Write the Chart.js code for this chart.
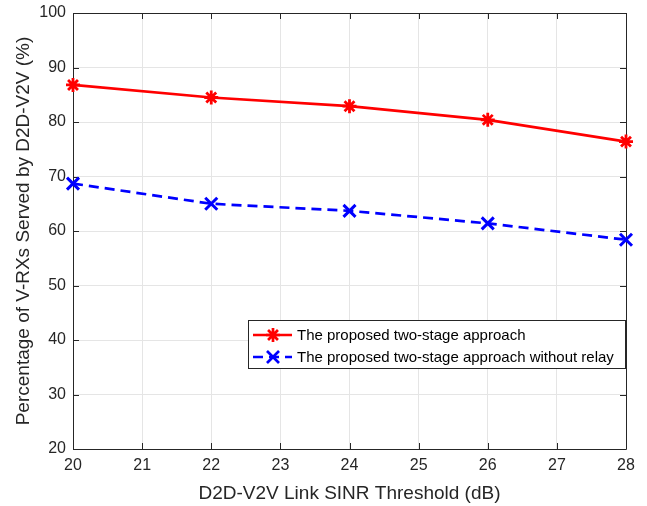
<!DOCTYPE html>
<html><head><meta charset="utf-8">
<script src="https://cdn.jsdelivr.net/npm/chart.js@4/dist/chart.umd.min.js"></script>
<style>html,body{margin:0;padding:0;background:#fff}#wrap{width:647px;height:506px}</style>
</head><body><div id="wrap"><canvas id="c" width="647" height="506"></canvas></div>
<script>
const xValues = [20, 22, 24, 26, 28];
const proposed = [86.8, 84.5, 82.9, 80.4, 76.4];
const noRelay = [68.7, 65.0, 63.7, 61.4, 58.4];
const seriesNames = ["The proposed two-stage approach", "The proposed two-stage approach without relay"];
const xTitle = "D2D-V2V Link SINR Threshold (dB)";
const yTitle = "Percentage of V-RXs Served by D2D-V2V (%)";

const FONT = "'Liberation Sans', Arial, sans-serif";
const TXT = '#262626';

const boxPlugin = {
  id: 'box',
  beforeDatasetsDraw(chart) {
    const {ctx, chartArea: a, scales: {x, y}} = chart;
    ctx.save();
    ctx.strokeStyle = '#262626';
    ctx.lineWidth = 1;
    ctx.beginPath();
    ctx.rect(Math.round(a.left) + 0.5, Math.round(a.top) + 0.5, Math.round(a.right - a.left), Math.round(a.bottom - a.top));
    ctx.stroke();
    const tl = 6;
    ctx.beginPath();
    for (let v = 20; v <= 28; v++) {
      const px = Math.round(x.getPixelForValue(v)) + 0.5;
      ctx.moveTo(px, a.bottom); ctx.lineTo(px, a.bottom - tl);
      ctx.moveTo(px, a.top); ctx.lineTo(px, a.top + tl);
    }
    for (let v = 20; v <= 100; v += 10) {
      const py = Math.round(y.getPixelForValue(v)) + 0.5;
      ctx.moveTo(a.left, py); ctx.lineTo(a.left + tl, py);
      ctx.moveTo(a.right, py); ctx.lineTo(a.right - tl, py);
    }
    ctx.stroke();
    ctx.restore();
  },
  afterDraw(chart) {
    const {ctx} = chart;
    const L = 248, T = 320, R = 625, B = 368;
    ctx.save();
    ctx.fillStyle = '#fff';
    ctx.fillRect(L, T, R - L, B - T);
    ctx.strokeStyle = '#262626';
    ctx.lineWidth = 1;
    ctx.strokeRect(L + 0.5, T + 0.5, R - L, B - T);
    ctx.font = '15px ' + FONT;
    ctx.textBaseline = 'middle';
    chart.data.datasets.forEach((ds, i) => {
      const cy = T + 15 + i * 22;
      ctx.strokeStyle = ds.borderColor;
      ctx.lineWidth = ds.borderWidth;
      ctx.setLineDash(ds.borderDash || []);
      ctx.beginPath(); ctx.moveTo(L + 5, cy); ctx.lineTo(L + 44, cy); ctx.stroke();
      ctx.setLineDash([]);
      ctx.strokeStyle = ds.pointBorderColor;
      Chart.helpers.drawPoint(ctx, {pointStyle: ds.pointStyle, radius: ds.pointRadius, borderWidth: ds.pointBorderWidth, rotation: 0}, L + 25, cy);
      ctx.fillStyle = '#000';
      ctx.fillText(ds.label, L + 49, cy + 1);
    });
    ctx.restore();
  }
};

new Chart(document.getElementById('c'), {
  type: 'line',
  data: {
    datasets: [
      {label: seriesNames[0], data: xValues.map((v, i) => ({x: v, y: proposed[i]})),
       borderColor: '#ff0000', backgroundColor: '#ff0000', borderWidth: 2.7, clip: false,
       pointStyle: 'star', pointRadius: 7, pointBorderWidth: 2.8, pointBorderColor: '#ff0000', tension: 0},
      {label: seriesNames[1], data: xValues.map((v, i) => ({x: v, y: noRelay[i]})),
       borderColor: '#0000ff', backgroundColor: '#0000ff', borderWidth: 2.7, borderDash: [10, 6], clip: false,
       pointStyle: 'crossRot', pointRadius: 8.5, pointBorderWidth: 3, pointBorderColor: '#0000ff', tension: 0}
    ]
  },
  options: {
    responsive: false, animation: false, devicePixelRatio: 1,
    layout: {padding: {left: 4, right: 21, top: 13, bottom: 0}},
    plugins: {legend: {display: false}, tooltip: {enabled: false}},
    scales: {
      x: {type: 'linear', min: 20, max: 28,
        ticks: {stepSize: 1, color: TXT, font: {family: FONT, size: 16}, padding: 7},
        grid: {color: '#e5e5e5', drawTicks: false},
        border: {display: false},
        title: {display: true, text: xTitle, color: TXT, font: {family: FONT, size: 19}, padding: {top: 0, bottom: 1}},
        afterFit(s) { s.height = 57; s.paddingLeft = 0; s.paddingRight = 0; }
      },
      y: {type: 'linear', min: 20, max: 100,
        ticks: {stepSize: 10, color: TXT, font: {family: FONT, size: 16}, padding: 7},
        grid: {color: '#e5e5e5', drawTicks: false},
        border: {display: false},
        title: {display: true, text: yTitle, color: TXT, font: {family: FONT, size: 19}, padding: {top: 8, bottom: 0}},
        afterFit(s) { s.width = 69; s.paddingTop = 0; s.paddingBottom = 0; }
      }
    }
  },
  plugins: [boxPlugin]
});
</script></body></html>
